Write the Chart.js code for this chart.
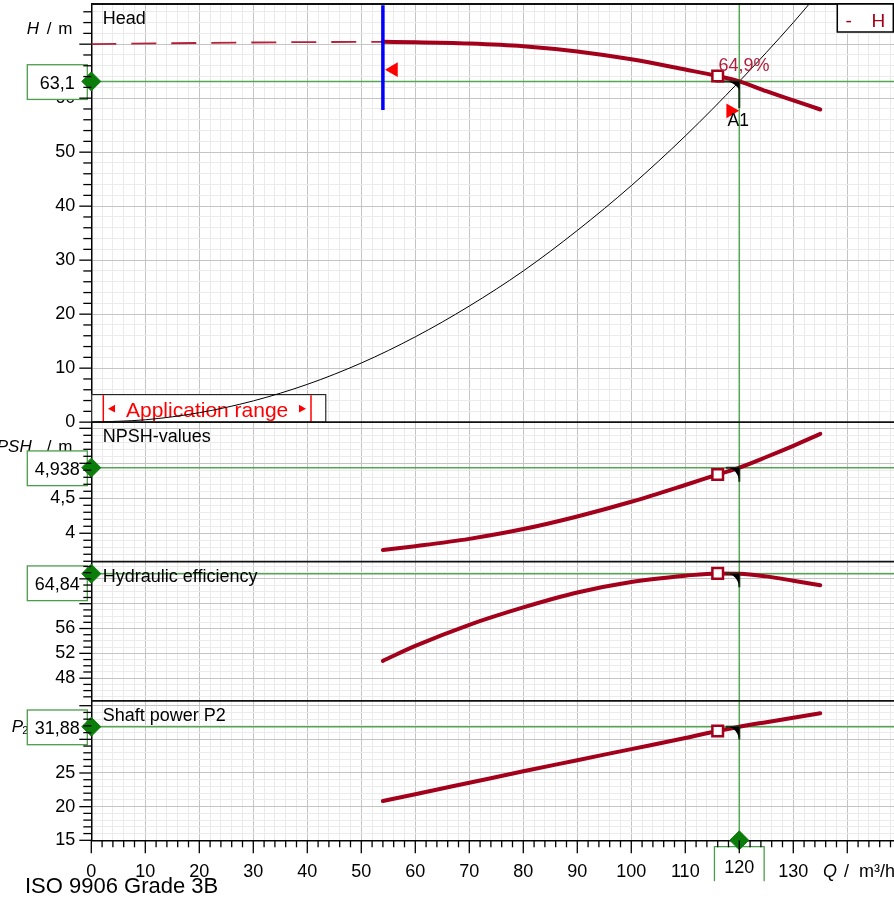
<!DOCTYPE html>
<html><head><meta charset="utf-8">
<script src="https://cdn.jsdelivr.net/npm/chart.js@4.4.1/dist/chart.umd.min.js"></script>
<style>html,body{margin:0;padding:0;background:#fff;overflow:hidden}canvas{display:block}</style>
</head><body>
<canvas id="c" width="894" height="901"></canvas>
<script>
// ---- data ----
const flowQ   = [54, 60, 70, 80, 90, 100, 110, 116, 120, 125, 130, 135];
const headH   = [70.43, 70.37, 70.13, 69.63, 68.65, 67.2, 65.3, 64.1, 63.1, 61.3, 59.6, 57.9];
const npshR   = [3.76, 3.815, 3.92, 4.06, 4.24, 4.45, 4.69, 4.84, 4.938, 5.09, 5.25, 5.42];
const effEta  = [50.8, 53.2, 56.6, 59.4, 61.8, 63.5, 64.5, 64.88, 64.84, 64.4, 63.7, 62.97];
const powerP2 = [20.84, 21.85, 23.55, 25.25, 26.9, 28.55, 30.2, 31.25, 31.88, 32.55, 33.2, 33.87];
const dashQ = [0, 20, 40, 54];
const dashH = [70.0, 70.22, 70.38, 70.43];
const sysQ = [0, 10, 20, 30, 40, 50, 60, 70, 80, 90, 100, 110, 120, 130, 134];
const sysH = [0, 0.44, 1.75, 3.94, 7.0, 10.95, 15.8, 21.5, 28.0, 35.5, 43.8, 53.0, 63.1, 74.0, 78.7];
const opQ = 120;
const opValues = [63.1, 4.938, 64.84, 31.88];
const opLabels = ['63,1', '4,938', '64,84', '31,88'];
const opQLabel = '120';
const opEffLabel = '64,9%';
const markQ = 116;
const markValues = [64.1, 4.84, 64.88, 31.25];
const minQ = 54;
const blueH = [77.2, 57.8];
const triQ = [55.96, 118.4];
const triH = [65.28, 57.65];
const tolQ = [115.6, 117.5, 117.5, 117.5];
const tolDrop = [4.9, 0.2, 2.2, 1.9];
const xLabels = [0, 10, 20, 30, 40, 50, 60, 70, 80, 90, 100, 110, 130];
const hLabels = [0, 10, 20, 30, 40, 50, 60];
const npshLabels = [4, 4.5];
const effLabels = [48, 52, 56];
const pLabels = [15, 20, 25];

// ---- layout / style ----
const FONT = '"Liberation Sans", Arial, sans-serif';
const RED = '#a3001b', GREEN = '#55a555', DGREEN = '#0a7d0a';
const MAJOR = '#c4c4c4', MINOR = '#ebebeb';
const PANEL_IDS = ['yH', 'yN', 'yE', 'yP'];
const PANEL_MIN = [0, 3.596, 44.34, 15];
const PANEL_MAX = [77.44, 5.588, 66.79, 35.71];
const PANEL_STEP = [2, 0.1, 1, 1];
const PANEL_MAJOR = [10, 0.5, 4, 5];
const PANEL_WEIGHT = [3, 1, 1, 1];
const PANEL_LABELS = [hLabels, npshLabels, effLabels, pLabels];
const PANEL_TITLES = ['Head', 'NPSH-values', 'Hydraulic efficiency', 'Shaft power P2'];
const X_MAX = 148.65;

const isMajor = (v, m) => Math.abs(v / m - Math.round(v / m)) < 1e-6;
const fmt = v => parseFloat(v.toFixed(3)).toString().replace('.', ',');
const inList = (list, v) => list.some(l => Math.abs(l - v) < 1e-6);
const pts = (xs, ys) => xs.map((x, i) => ({x, y: ys[i]}));

const scales = {
  x: {
    type: 'linear', position: 'bottom', min: 0, max: X_MAX,
    ticks: { stepSize: 2, autoSkip: false, includeBounds: false, maxRotation: 0, minRotation: 0,
      padding: 21, color: '#000', font: {size: 18, family: FONT},
      callback: v => inList(xLabels, v) ? fmt(v) : '' },
    grid: { drawTicks: false, lineWidth: 1, color: c => (c.tick && isMajor(c.tick.value, 10)) ? MAJOR : MINOR },
    border: { display: true, color: '#000', width: 1.5 },
    afterFit: s => { s.height = 60.7; s.paddingLeft = 0; s.paddingRight = 0; }
  }
};
PANEL_IDS.forEach((id, i) => {
  scales[id] = {
    type: 'linear', position: 'left', stack: 'panels', stackWeight: PANEL_WEIGHT[i], weight: 4 - i,
    min: PANEL_MIN[i], max: PANEL_MAX[i],
    ticks: { stepSize: PANEL_STEP[i], autoSkip: false, includeBounds: false, padding: 16,
      color: '#000', font: {size: 18, family: FONT},
      callback: v => inList(PANEL_LABELS[i], v) ? fmt(v) : '' },
    grid: { drawTicks: false, lineWidth: 1, color: c => (c.tick && isMajor(c.tick.value, PANEL_MAJOR[i])) ? MAJOR : MINOR },
    border: { display: true, color: '#000', width: 1.5 },
    afterFit: s => { s.width = 91.3; s.paddingTop = 0; s.paddingBottom = 0; }
  };
});

const curves = [headH, npshR, effEta, powerP2];
const datasets = [];
PANEL_IDS.forEach((id, i) => {
  datasets.push({ data: pts(flowQ, curves[i]), yAxisID: id, borderColor: RED, borderWidth: 4,
    pointRadius: 0, cubicInterpolationMode: 'monotone', borderCapStyle: 'round', order: 4 });
  datasets.push({ data: [{x: markQ, y: markValues[i]}], yAxisID: id, showLine: false,
    pointStyle: 'rect', pointRadius: 7.5, pointBorderWidth: 2.5, pointBorderColor: RED,
    pointBackgroundColor: '#fff', order: 2 });
  datasets.push({ data: [{x: tolQ[i], y: opValues[i]}, {x: opQ, y: opValues[i]}, {x: opQ, y: opValues[i] - tolDrop[i]}],
    yAxisID: id, borderColor: '#173817', borderWidth: 2, pointRadius: 0, tension: 0, order: 3 });
  datasets.push({ data: [{x: 0, y: opValues[i]}], yAxisID: id, showLine: false, pointStyle: 'rectRot',
    pointRadius: 9.5, pointBackgroundColor: DGREEN, pointBorderColor: DGREEN, pointBorderWidth: 1, clip: false, order: 0 });
});
datasets.push({ data: [{x: opQ, y: PANEL_MIN[3]}], yAxisID: 'yP', showLine: false, pointStyle: 'rectRot',
  pointRadius: 9.5, pointBackgroundColor: DGREEN, pointBorderColor: DGREEN, pointBorderWidth: 1, clip: false, order: 0 });
datasets.push({ data: pts(dashQ, dashH), yAxisID: 'yH', borderColor: '#b3213a', borderWidth: 1.8,
  borderDash: [25, 15], pointRadius: 0, cubicInterpolationMode: 'monotone', order: 7 });
datasets.push({ data: pts(sysQ, sysH), yAxisID: 'yH', borderColor: '#000', borderWidth: 1,
  pointRadius: 0, cubicInterpolationMode: 'monotone', order: 5 });
datasets.push({ data: [{x: minQ, y: blueH[0]}, {x: minQ, y: blueH[1]}], yAxisID: 'yH', borderColor: '#0000ff',
  borderWidth: 3.5, pointRadius: 0, order: 3.5 });
datasets.push({ data: pts(triQ, triH), yAxisID: 'yH', showLine: false, pointStyle: 'triangle',
  pointRadius: 8.5, pointRotation: [-90, 90], pointBackgroundColor: '#ff0000', pointBorderColor: '#ff0000',
  pointBorderWidth: 0, order: 1 });

function seg(ctx, x1, y1, x2, y2) { ctx.beginPath(); ctx.moveTo(x1, y1); ctx.lineTo(x2, y2); ctx.stroke(); }
function tri(ctx, x, y, dir) { ctx.beginPath(); ctx.moveTo(x + dir * 3.5, y); ctx.lineTo(x - dir * 3.5, y - 3.8); ctx.lineTo(x - dir * 3.5, y + 3.8); ctx.closePath(); ctx.fill(); }

const overlay = {
  id: 'overlay',
  beforeDatasetsDraw(chart) {
    const {ctx, chartArea: a, scales: s} = chart;
    ctx.save();
    // application range box
    const by = s.yH.getPixelForValue(0);
    ctx.fillStyle = '#fff'; ctx.fillRect(a.left, by - 28, 234.4, 28);
    ctx.strokeStyle = '#000'; ctx.lineWidth = 1; ctx.strokeRect(a.left + 0.5, by - 27.5, 234, 27.5);
    ctx.strokeStyle = '#ff0000'; ctx.fillStyle = '#ff0000'; ctx.lineWidth = 1.5;
    seg(ctx, a.left + 12, by - 27, a.left + 12, by);
    seg(ctx, a.left + 219.7, by - 27, a.left + 219.7, by);
    tri(ctx, a.left + 20.2, by - 13.5, -1);
    tri(ctx, a.left + 211.2, by - 13.5, 1);
    ctx.font = '21px ' + FONT; ctx.textAlign = 'left'; ctx.textBaseline = 'alphabetic';
    ctx.fillText('Application range', a.left + 34.7, by - 5.3);
    // operating point lines
    ctx.strokeStyle = GREEN; ctx.lineWidth = 1.5;
    PANEL_IDS.forEach((id, i) => { const y = s[id].getPixelForValue(opValues[i]); seg(ctx, a.left, y, a.right, y); });
    const xo = s.x.getPixelForValue(opQ);
    seg(ctx, xo, a.top, xo, a.bottom);
    // axis unit labels
    ctx.fillStyle = '#000';
    ctx.font = 'italic 17px ' + FONT; ctx.textAlign = 'left';
    ctx.fillText('H', 26.7, 34);
    ctx.textAlign = 'right'; ctx.fillText('NPSH', 31.7, 451.7);
    ctx.textAlign = 'left'; ctx.fillText('P', 11.7, 731.7);
    ctx.font = '17px ' + FONT;
    ctx.fillText('/', 46.7, 34); ctx.fillText('m', 58.3, 34);
    ctx.fillText('/', 46.7, 451.7); ctx.fillText('m', 58.3, 451.7);
    ctx.fillText('/  kW', 40, 731.7);
    ctx.font = '11px ' + FONT; ctx.fillText('2', 22.3, 734);
    // value boxes
    ctx.font = '18px ' + FONT; ctx.textAlign = 'center';
    PANEL_IDS.forEach((id, i) => {
      const y = s[id].getPixelForValue(opValues[i]);
      const top = Math.max(y - 16.7, s[id].top + 4.4);
      ctx.fillStyle = '#fff'; ctx.fillRect(27.3, top, 60, 34.7);
      ctx.strokeStyle = '#4a9d4a'; ctx.lineWidth = 1.3; ctx.strokeRect(27.3, top, 60, 34.7);
      ctx.fillStyle = '#000'; ctx.fillText(opLabels[i], 57.3, top + 24.3);
    });
    const bt = a.bottom + 6.4;
    ctx.fillStyle = '#fff'; ctx.fillRect(xo - 24.85, bt, 49.7, 40);
    ctx.strokeStyle = '#4a9d4a'; ctx.lineWidth = 1.3;
    ctx.beginPath(); ctx.moveTo(xo - 24.85, bt + 34.5); ctx.lineTo(xo - 24.85, bt); ctx.lineTo(xo + 24.85, bt); ctx.lineTo(xo + 24.85, bt + 34.5); ctx.stroke();
    ctx.fillStyle = '#000'; ctx.fillText(opQLabel, xo, a.bottom + 32.4);
    ctx.restore();
  },
  afterDatasetsDraw(chart) {
    const {ctx, chartArea: a, scales: s} = chart;
    ctx.save();
    // panel borders
    ctx.strokeStyle = '#111'; ctx.lineWidth = 1.8;
    seg(ctx, a.left, a.top, a.right, a.top);
    ['yN', 'yE', 'yP'].forEach(id => seg(ctx, a.left, s[id].top, a.right, s[id].top));
    // tick marks
    ctx.strokeStyle = '#000'; ctx.lineWidth = 1.3;
    PANEL_IDS.forEach((id, i) => {
      s[id].ticks.forEach(t => {
        const y = s[id].getPixelForValue(t.value);
        const len = isMajor(t.value, PANEL_MAJOR[i]) ? 12 : 8;
        seg(ctx, a.left - len, y, a.left, y);
      });
    });
    s.x.ticks.forEach(t => {
      const x = s.x.getPixelForValue(t.value);
      const len = isMajor(t.value, 10) ? 13 : 7;
      seg(ctx, x, a.bottom, x, a.bottom + len);
    });
    // wedges at operating points
    const xo = s.x.getPixelForValue(opQ);
    ctx.fillStyle = '#000';
    PANEL_IDS.forEach((id, i) => {
      const y = s[id].getPixelForValue(opValues[i]);
      const w = i === 0 ? 11.5 : 10, h = i === 0 ? 9 : 12;
      ctx.beginPath(); ctx.moveTo(xo - w, y); ctx.lineTo(xo, y); ctx.lineTo(xo, y + h);
      ctx.quadraticCurveTo(xo - 2.5, y + 2.5, xo - w, y); ctx.closePath(); ctx.fill();
    });
    // titles
    ctx.fillStyle = '#000'; ctx.font = '18px ' + FONT; ctx.textAlign = 'left'; ctx.textBaseline = 'alphabetic';
    PANEL_IDS.forEach((id, i) => ctx.fillText(PANEL_TITLES[i], a.left + 11.4, s[id].top + 20.3));
    // annotations
    const yo = s.yH.getPixelForValue(opValues[0]);
    ctx.fillStyle = '#b0203a'; ctx.fillText(opEffLabel, xo - 20.9, yo - 10.3);
    ctx.fillStyle = '#000'; ctx.font = '17.5px ' + FONT; ctx.fillText('A1', xo - 11.7, yo + 44.7);
    // legend box
    ctx.fillStyle = '#fff'; ctx.fillRect(837.3, a.top, 56, 28);
    ctx.strokeStyle = '#000'; ctx.lineWidth = 1.5; ctx.strokeRect(837.3, a.top, 56, 28);
    ctx.fillStyle = RED; ctx.font = '19px ' + FONT;
    ctx.fillText('-', 845.5, 26.7); ctx.fillText('H', 871.5, 26.7);
    // footer
    ctx.fillStyle = '#000'; ctx.font = '22px ' + FONT;
    ctx.fillText('ISO 9906 Grade 3B', 25, 893.3);
    ctx.font = 'italic 18px ' + FONT; ctx.fillText('Q', 823, 877);
    ctx.font = '18px ' + FONT; ctx.fillText('/  m³/h', 844, 877);
    ctx.restore();
  }
};

new Chart(document.getElementById('c'), {
  type: 'line',
  data: { datasets },
  options: {
    responsive: false, animation: false, devicePixelRatio: 1, events: [],
    layout: { autoPadding: false, padding: { top: 4, left: 0, right: 0, bottom: 0 } },
    plugins: { legend: { display: false }, tooltip: { enabled: false } },
    scales
  },
  plugins: [overlay]
});
</script>
</body></html>
